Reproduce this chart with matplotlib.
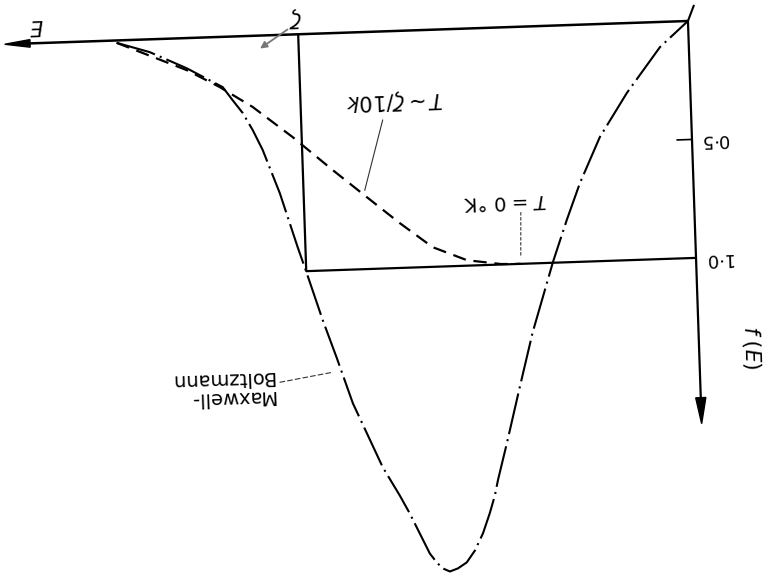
import matplotlib.pyplot as plt
from matplotlib.transforms import Affine2D

# energies in units of zeta (Fermi level), occupation f(E)
fd_E = [1.466, 1.289, 1.206, 1.123, 1.023, 0.923, 0.838, 0.756, 0.674, 0.587, 0.50, 0.45]
fd_f = [0.01, 0.135, 0.211, 0.300, 0.433, 0.578, 0.697, 0.811, 0.917, 0.977, 0.998, 1.0]

mb_E = [-0.017, 0.0, 0.074, 0.163, 0.236, 0.291, 0.328, 0.367, 0.382, 0.425, 0.463,
        0.501, 0.527, 0.536, 0.551, 0.570, 0.592, 0.614, 0.637, 0.658, 0.676, 0.691,
        0.708, 0.732, 0.756, 0.780, 0.821, 0.892, 0.929, 0.962, 0.999, 1.020, 1.061,
        1.101, 1.125, 1.149, 1.174, 1.198, 1.289, 1.382, 1.466]
mb_f = [-0.067, 0.0, 0.106, 0.295, 0.477, 0.668, 0.822, 0.997, 1.073, 1.290, 1.520,
        1.755, 1.909, 1.972, 2.048, 2.131, 2.202, 2.251, 2.275, 2.287, 2.273, 2.247,
        2.208, 2.122, 2.036, 1.959, 1.838, 1.564, 1.372, 1.209, 1.008, 0.897, 0.667,
        0.483, 0.397, 0.324, 0.268, 0.212, 0.127, 0.054, 0.01]

# T = 0 K step
step_E = [0.0, 1.0, 1.0]
step_f = [1.0, 1.0, 0.0]

E_max = 1.753
f_max = 1.70
tick_vals = [0.5, 1.0]
tick_labels = ['0·5', '1·0']

fig = plt.figure(figsize=(7.64, 5.78), dpi=100)
ax = fig.add_axes([0, 0, 1, 1])
ax.set_xlim(1.764, -0.195)
ax.set_ylim(2.350, -0.0886)
ax.axis('off')

# slight skew of the whole drawing around the origin
ox, oy = ax.transData.transform((0, 0))
tilt = 1.95
tr = ax.transData + Affine2D().rotate_deg_around(ox, oy, tilt)
rot = 180 + tilt

kw = dict(transform=tr, clip_on=False, color='black', solid_capstyle='butt')

# axes with arrow heads
ax.plot([0, E_max - 0.05], [0, 0], lw=1.8, **kw)
ax.plot([0, 0], [0, f_max - 0.08], lw=1.6, **kw)
ax.fill([E_max, E_max - 0.065, E_max - 0.065], [0, -0.016, 0.016],
        transform=tr, color='black', clip_on=False)
ax.fill([0, -0.013, 0.013], [f_max, f_max - 0.11, f_max - 0.11],
        transform=tr, color='black', clip_on=False)

# tick at 0.5
ax.plot([0, 0.04], [0.5, 0.5], lw=1.2, **kw)
for v, lab in zip(tick_vals, tick_labels):
    ax.text(-0.055, v + 0.005, lab, transform=tr, rotation=rot, rotation_mode='anchor',
            ha='center', va='center', fontsize=13)

# curves
ax.plot(step_E, step_f, lw=1.6, **kw)
ax.plot(fd_E, fd_f, lw=1.6, dashes=(6, 3.5), **kw)
ax.plot(mb_E, mb_f, lw=1.5, dashes=(20, 2.5, 1, 2.5), **kw)

# labels
ax.text(1.669, -0.077, '$E$', transform=tr, rotation=rot, rotation_mode='anchor',
        ha='center', va='center', fontsize=15)
ax.text(1.005, -0.073, r'$\zeta$', transform=tr, rotation=rot, rotation_mode='anchor',
        ha='center', va='center', fontsize=15)
ax.annotate('', xy=(1.105, 0.061), xytext=(1.021, -0.028), xycoords=tr, textcoords=tr,
            arrowprops=dict(arrowstyle='-|>', color='#777777', lw=1.3, mutation_scale=10))
ax.text(-0.133, 1.385, '$f$ $(E)$', transform=tr, rotation=270 + tilt,
        rotation_mode='anchor', ha='center', va='center', fontsize=15)

ax.text(0.758, 0.291, r'$T\sim\zeta/10k$', transform=tr, rotation=rot,
        rotation_mode='anchor', ha='center', va='center', fontsize=15)
ax.plot([0.791, 0.843], [0.374, 0.667], lw=0.8, color='#333333', transform=tr)

ax.text(0.485, 0.733, '$T$ = 0 °K', transform=tr, rotation=rot,
        rotation_mode='anchor', ha='center', va='center', fontsize=14)
ax.plot([0.445, 0.449], [0.782, 0.972], lw=0.8, color='#333333', dashes=(3, 1.5),
        transform=tr)

ax.text(1.091, 1.481, 'Maxwell-\nBoltzmann', transform=tr, rotation=rot,
        rotation_mode='anchor', ha='left', va='center', fontsize=14,
        multialignment='left', linespacing=1.0)
ax.plot([1.078, 0.941], [1.465, 1.430], lw=0.8, color='#333333', dashes=(5, 2),
        transform=tr)

fig.savefig('out.png', dpi=100, facecolor='white')
